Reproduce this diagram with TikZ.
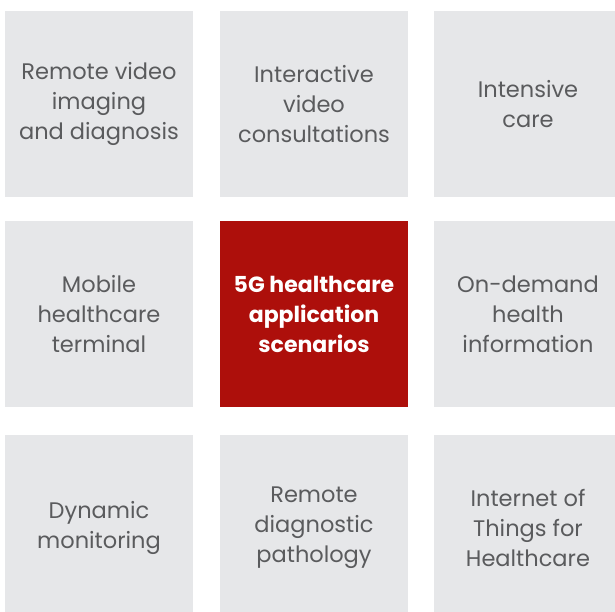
\documentclass[tikz,border=0pt]{standalone}
\usepackage{fontspec}
\setmainfont{Poppins}
\usepackage{tikz}
\definecolor{tilegrey}{HTML}{E6E7E9}
\definecolor{textgrey}{HTML}{5A5B5D}
\definecolor{tilered}{HTML}{AD0F0B}

\begin{document}
\begin{tikzpicture}[x=1pt, y=-1pt, every node/.style={rectangle, fill=tilegrey, text=textgrey, minimum width=188pt, minimum height=186pt, inner sep=0pt, align=center, font=\fontsize{22.5}{30}\selectfont}]
    \useasboundingbox (0,0) rectangle (615,612);
    \node (video) at (99,104) {Remote video\\imaging\\and diagnosis};
    \node (consult) at (314,104) {Interactive\\video\\consultations};
    \node (care) at (528,104) {Intensive\\care};
    \node (mobile) at (99,314) {Mobile\\healthcare\\terminal};
    \node (core) [fill=tilered, text=white, font=\fontsize{22}{30}\selectfont\bfseries] at (314,314) {5G healthcare\\application\\scenarios};
    \node (demand) at (528,314) {On-demand\\health\\information};
    \node (monitor) at (99,528) {Dynamic\\monitoring};
    \node (patho) at (314,528) {Remote\\diagnostic\\pathology};
    \node (iot) at (528,528) {Internet of\\Things for\\Healthcare};
\end{tikzpicture}
\end{document}
